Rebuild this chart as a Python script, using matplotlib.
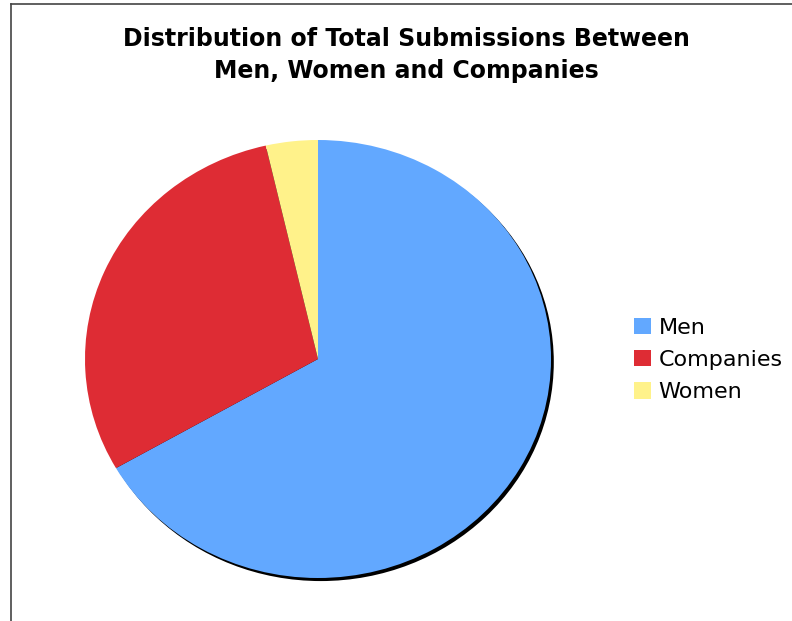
import matplotlib
matplotlib.use("Agg")
import matplotlib.pyplot as plt
from matplotlib.patches import Ellipse, Patch
from matplotlib.lines import Line2D

categories = ["Men", "Companies", "Women"]
values = [66.7, 29.7, 3.6]
colors = ["#62A8FF", "#DE2C34", "#FFF28A"]
title = "Distribution of Total Submissions Between\nMen, Women and Companies"

W, H = 792, 621
fig = plt.figure(figsize=(W / 100, H / 100), dpi=100)
fig.patch.set_facecolor("white")

# outer frame (left and top edges visible)
fig.add_artist(Line2D([11 / W, 11 / W], [0, 1 - 4 / H], color="#444444", lw=1.2, transform=fig.transFigure))
fig.add_artist(Line2D([11 / W, 1], [1 - 4 / H, 1 - 4 / H], color="#444444", lw=1.2, transform=fig.transFigure))

ax = fig.add_axes([85 / W, (H - 578) / H, 466 / W, 438 / H])
ax.axis("off")

# shadow
ax.add_patch(Ellipse((0.012, -0.014), 2.0, 2.0, facecolor="black", edgecolor="none",
                     zorder=0, clip_on=False))

wedges, _ = ax.pie(values, colors=colors, startangle=90, counterclock=False,
                   radius=1.0, wedgeprops=dict(linewidth=0))
for w in wedges:
    w.set_zorder(1)
    w.set_clip_on(False)
ax.set_xlim(-1.0, 1.0)
ax.set_ylim(-1.0, 1.0)
ax.set_aspect("auto")

fig.text(406 / W, 1 - 55 / H, title, ha="center", va="center", fontsize=17,
         fontweight="bold", family="DejaVu Sans", linespacing=1.45)

handles = [Patch(facecolor=c, edgecolor="none") for c in colors]
fig.legend(handles, categories, loc="center left", bbox_to_anchor=(634 / W, 1 - 360 / H),
           frameon=False, fontsize=16, handlelength=0.75, handleheight=0.75,
           handletextpad=0.35, labelspacing=0.55, borderaxespad=0, borderpad=0)

fig.savefig("out.png", dpi=100, facecolor="white")
